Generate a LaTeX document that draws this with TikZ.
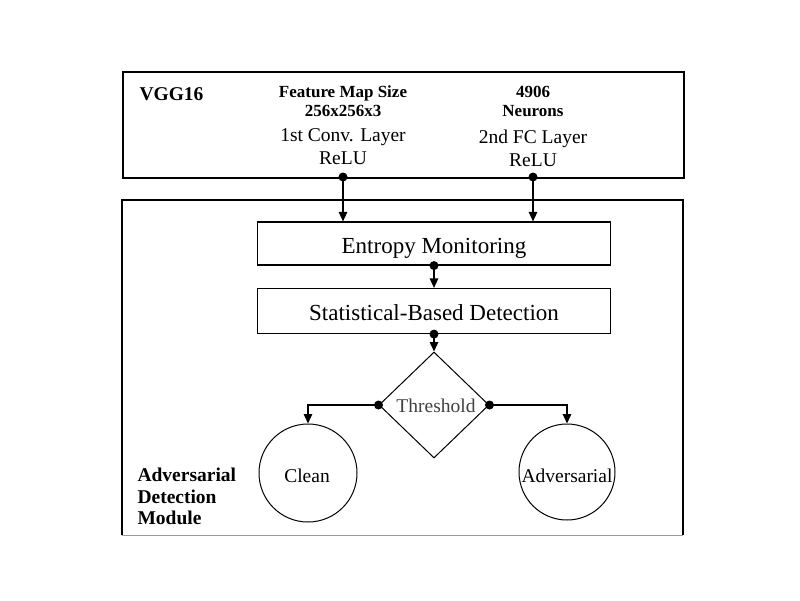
\documentclass[tikz,border=0pt]{standalone}
\usepackage{fontspec}
\setmainfont{Liberation Serif}
\usetikzlibrary{arrows.meta,shapes.geometric}
\begin{document}
\begin{tikzpicture}[x=1pt,y=-1pt,
  conn/.style={line width=1.4pt,-{Triangle[length=9.5pt,width=8.5pt]}},
  dotnode/.style={circle,fill=black,inner sep=0pt,minimum size=9pt},
  bigtxt/.style={font=\fontsize{23}{26}\selectfont},
  normtxt/.style={font=\fontsize{19.5}{22}\selectfont},
  headtxt/.style={font=\fontsize{17}{19}\selectfont\bfseries},
  labtxt/.style={font=\fontsize{19.5}{22}\selectfont\bfseries},
  procbox/.style={draw,line width=1.2pt,minimum width=353pt,inner sep=0pt},
  endcircle/.style={draw,circle,line width=1pt,inner sep=0pt,normtxt}]
\useasboundingbox (0,0) rectangle (800,600);

% VGG16 frame
\node[draw,line width=2pt,minimum width=561pt,minimum height=106pt,inner sep=0pt,anchor=north west] (vgg) at (122,71) {};
\node[labtxt,anchor=base west] (vggt) at (136,100) {VGG16};
\node[headtxt,anchor=base] (fms) at (343,97) {Feature Map Size};
\node[headtxt,anchor=base] (fmd) at (343,116) {256x256x3};
\node[normtxt,anchor=base] (conv) at (343,141) {1st Conv. Layer};
\node[normtxt,anchor=base] (relua) at (343,164) {ReLU};
\node[headtxt,anchor=base] (nn) at (533,97) {4906};
\node[headtxt,anchor=base] (neur) at (533,116) {Neurons};
\node[normtxt,anchor=base] (fc) at (533,143) {2nd FC Layer};
\node[normtxt,anchor=base] (relub) at (533,166) {ReLU};

% Detection module frame
\node[minimum width=561pt,minimum height=335pt,inner sep=0pt,anchor=north west] (adm) at (122,200) {};
\draw[line width=2pt] (adm.south west) -- (adm.north west) -- (adm.north east) -- (adm.south east);
\draw[line width=1pt,black!40] (adm.south west) -- (adm.south east);
\node[labtxt,anchor=base west] (adm1) at (134,481) {Adversarial};
\node[labtxt,anchor=base west] (adm2) at (134,503) {Detection};
\node[labtxt,anchor=base west] (adm3) at (134,524) {Module};

% process boxes
\node[procbox,minimum height=43pt] (ent) at (434,243.5) {};
\node[bigtxt,anchor=base] (entt) at (434,253) {Entropy Monitoring};
\node[procbox,minimum height=45pt] (stat) at (434,311) {};
\node[bigtxt,anchor=base] (statt) at (434,320) {Statistical-Based Detection};
\node[draw,diamond,line width=1pt,minimum width=110pt,minimum height=106pt,inner sep=0pt] (thr) at (434,405) {};
\node[normtxt,text=black!75,anchor=base] (thrt) at (436,412) {Threshold};
\node[endcircle,minimum size=98pt] (clean) at (308,473) {};
\node[normtxt,anchor=base] (cleant) at (307,482) {Clean};
\node[endcircle,minimum size=96pt] (adv) at (567,472) {};
\node[normtxt,anchor=base] (advt) at (567,482) {Adversarial};

% dots
\node[dotnode] (d1) at (343,177) {};
\node[dotnode] (d2) at (533,177) {};
\node[dotnode] (d3) at (ent.south) {};
\node[dotnode] (d4) at (stat.south) {};
\node[dotnode] (d5) at (thr.west) {};
\node[dotnode] (d6) at (thr.east) {};

% connectors
\draw[conn] (d1.center) -- (d1.center |- ent.north);
\draw[conn] (d2.center) -- (d2.center |- ent.north);
\draw[conn] (d3.center) -- (stat.north);
\draw[conn] (d4.center) -- (thr.north);
\draw[conn] (d5.center) -| (clean.north);
\draw[conn] (d6.center) -| (adv.north);
\end{tikzpicture}
\end{document}
